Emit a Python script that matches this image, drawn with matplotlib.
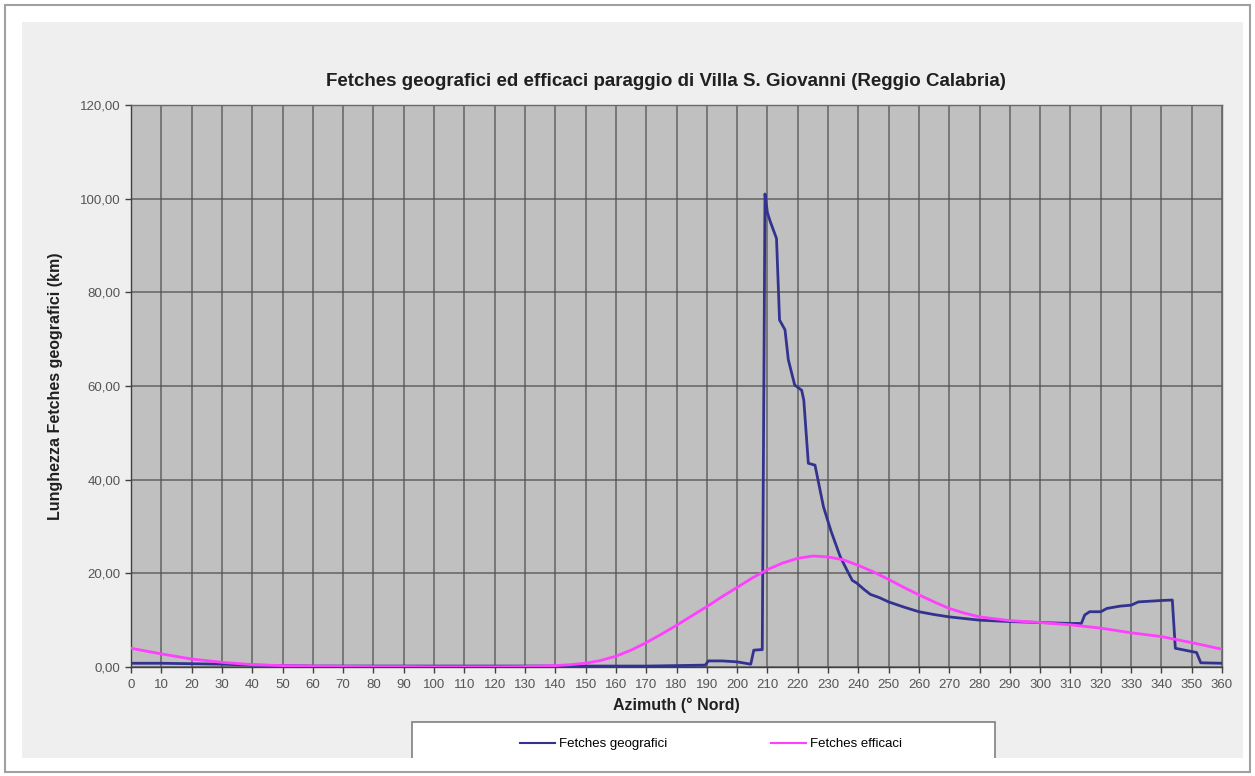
import numpy as np
import matplotlib.pyplot as plt
from matplotlib.patches import Rectangle
from matplotlib.lines import Line2D
from matplotlib.ticker import FuncFormatter, MultipleLocator

# Fetches geografici (azimuth in gradi, lunghezza in km)
az_geo = [0, 10, 20, 30, 40, 50, 60, 70, 80, 90, 100, 110, 120, 130, 140,
          150, 160, 170, 180, 189.5, 190.5, 195, 200, 204.5, 205.5, 207.8,
          208.3, 209.2, 210, 211, 213, 214, 215.8, 216.9, 219, 221.3, 222,
          223.5, 225.7, 228.5, 231, 234, 236, 238, 239.5, 242, 244, 247,
          250, 255, 260, 265, 270, 280, 290, 300, 310, 313.6, 314.7, 316.3,
          320, 322, 326.4, 330, 332.4, 340, 343.6, 344.6, 350, 351.6, 353, 360]
fetch_geo = [0.8, 0.8, 0.7, 0.6, 0.4, 0.3, 0.2, 0.2, 0.2, 0.2, 0.2, 0.2, 0.2, 0.2, 0.2,
             0.2, 0.2, 0.2, 0.3, 0.4, 1.3, 1.3, 1.1, 0.6, 3.6, 3.7,
             3.7, 101.0, 97.0, 95.0, 91.5, 74.1, 72.0, 65.6, 60.2, 59.1, 57.0,
             43.5, 43.1, 34.2, 29.0, 23.6, 21.0, 18.5, 17.9, 16.5, 15.5, 14.8,
             13.9, 12.8, 11.8, 11.2, 10.7, 10.0, 9.7, 9.5, 9.3, 9.3, 11.1, 11.8,
             11.8, 12.5, 13.0, 13.2, 13.9, 14.2, 14.3, 4.0, 3.3, 3.1, 0.9, 0.8]

# Fetches efficaci
az_eff = [0, 10, 20, 30, 40, 50, 60, 70, 80, 90, 100, 110, 120, 130, 140, 145,
          150, 155, 160, 165, 170, 175, 180, 185, 190, 195, 200, 205, 210, 215,
          220, 225, 230, 235, 240, 245, 250, 255, 260, 265, 270, 275, 280, 290,
          300, 310, 320, 330, 340, 350, 360]
fetch_eff = [4.0, 2.8, 1.7, 1.0, 0.5, 0.3, 0.2, 0.15, 0.1, 0.1, 0.05, 0.05, 0.05, 0.1, 0.3, 0.5,
             0.8, 1.4, 2.3, 3.6, 5.2, 7.0, 8.9, 10.9, 12.9, 15.0, 17.0, 19.0, 20.8, 22.2,
             23.2, 23.7, 23.5, 22.9, 21.7, 20.3, 18.7, 17.0, 15.4, 13.9, 12.5, 11.5, 10.7, 9.9,
             9.5, 9.0, 8.3, 7.3, 6.5, 5.2, 3.8]

W, H = 1255, 776
plt.rcParams['font.family'] = ['Liberation Sans', 'DejaVu Sans']

fig = plt.figure(figsize=(W / 100, H / 100), dpi=100)
fig.patch.set_facecolor('white')

# cornice esterna e pannello grigio chiaro
fig.patches.append(Rectangle((5 / W, 4 / H), 1245 / W, 767 / H, transform=fig.transFigure,
                             facecolor='none', edgecolor='#a0a0a0', lw=1.5, zorder=-3))
panel = Rectangle((22 / W, 18 / H), 1221 / W, 736 / H, transform=fig.transFigure,
                  facecolor='#efefef', edgecolor='none', zorder=-2)
fig.patches.append(panel)

ax = fig.add_axes([131 / W, 109 / H, 1091 / W, 562 / H], zorder=2)
ax.set_facecolor('#c0c0c0')

ax.plot(az_geo, fetch_geo, color='#33338f', lw=2, label='Fetches geografici', zorder=3)
ax.plot(az_eff, fetch_eff, color='#ff40ff', lw=2, label='Fetches efficaci', zorder=4)

ax.set_xlim(0, 360)
ax.set_ylim(0, 120)
ax.xaxis.set_major_locator(MultipleLocator(10))
ax.yaxis.set_major_locator(MultipleLocator(20))
ax.yaxis.set_major_formatter(FuncFormatter(lambda v, p: f"{v:.2f}".replace('.', ',')))
ax.grid(True, color='#555555', lw=1.2, alpha=0.8)
ax.set_axisbelow(True)
for s in ax.spines.values():
    s.set_color('#6a6a6a')
    s.set_linewidth(1.0)
ax.spines['left'].set_color('#404040')
ax.spines['bottom'].set_color('#404040')
ax.tick_params(axis='both', colors='#404040', labelcolor='#555555', labelsize=9.5,
               length=4, width=1)
ax.tick_params(axis='x', pad=5)

ax.set_xlabel('Azimuth (° Nord)', fontsize=11.5, fontweight='bold', color='#202020', labelpad=4)
ax.set_ylabel('Lunghezza Fetches geografici (km)', fontsize=11.5, fontweight='bold',
              color='#202020', labelpad=12)

fig.text(666 / W, 1 - 82 / H,
         'Fetches geografici ed efficaci paraggio di Villa S. Giovanni (Reggio Calabria)',
         ha='center', va='center', fontsize=13.5, fontweight='bold', color='#202020')

# riquadro della legenda, tagliato dal bordo del pannello
box = Rectangle((412 / W, 0), 583 / W, (776 - 722) / H, transform=fig.transFigure,
                facecolor='white', edgecolor='#808080', lw=1.2, zorder=-1)
fig.patches.append(box)
box.set_clip_path(panel)

handles = [Line2D([], [], color='#33338f', lw=1.5), Line2D([], [], color='#ff40ff', lw=1.5)]
fig.legend(handles, ['Fetches geografici', 'Fetches efficaci'], ncol=2, frameon=False,
           loc='center', bbox_to_anchor=(711 / W, 1 - 744 / H), fontsize=9.5,
           handlelength=2.7, handletextpad=0.3, columnspacing=7.8)

fig.savefig('out.png', dpi=100)
